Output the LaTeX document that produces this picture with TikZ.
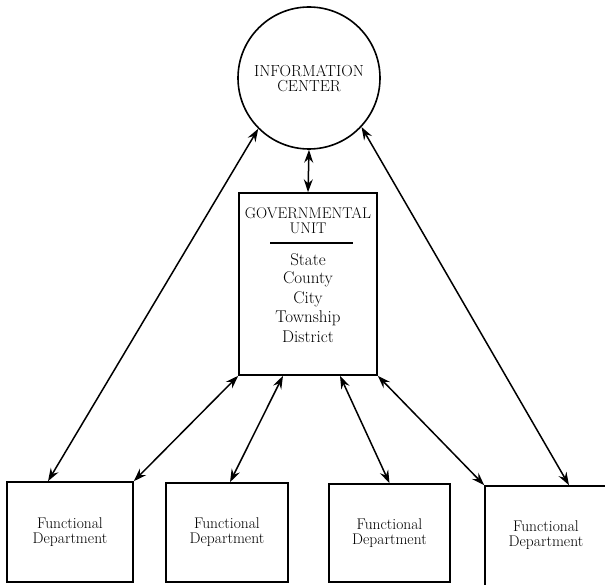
\documentclass[tikz,border=0pt]{standalone}
\usetikzlibrary{arrows.meta}
\begin{document}
\begin{tikzpicture}[x=1pt,y=-1pt,
  line width=1.6pt,
  box/.style={draw,rectangle,inner sep=0pt},
  dept/.style={box,minimum width=122pt,minimum height=99pt,align=center,
    font=\fontsize{15.5}{15}\selectfont},
  link/.style={{Stealth[length=13pt,width=9pt,inset=4.5pt]}-{Stealth[length=13pt,width=9pt,inset=4.5pt]},line width=1.5pt},
  head/.style={inner sep=0pt,font=\fontsize{15.5}{15}\selectfont},
  lbl/.style={inner sep=0pt,font=\fontsize{17}{19}\selectfont}]
\useasboundingbox (0,0) rectangle (605,585);

% information center
\node[draw,circle,minimum size=142pt,inner sep=0pt,align=center,
  font=\fontsize{16}{15}\selectfont] (ic) at (309,78) {INFORMATION\\CENTER};

% governmental unit with its list
\node[box,minimum width=138pt,minimum height=182pt] (gu) at (308,284) {};
\node[head] (gu1) at (308,213) {GOVERNMENTAL};
\node[head] (gu2) at (308,228) {UNIT};
\coordinate (ruleL) at (270,243);
\coordinate (ruleR) at (353,243);
\draw[line width=1.3pt] (ruleL) -- (ruleR);
\node[lbl] (s1) at (308,260) {State};
\node[lbl] (s2) at (308,279) {County};
\node[lbl] (s3) at (308,299) {City};
\node[lbl] (s4) at (308,318) {Township};
\node[lbl] (s5) at (308,337) {District};

% functional departments (the last one runs past the page edge)
\node[dept,minimum width=126pt,minimum height=100pt] (f1) at (70,532) {Functional\\Department};
\node[dept] (f2) at (227,532.5) {Functional\\Department};
\node[dept,minimum width=121pt,minimum height=98pt] (f3) at (389.5,533) {Functional\\Department};
\node[dept,minimum height=104pt] (f4) at (546,538) {};
\node[inner sep=0pt,align=center,font=\fontsize{15.5}{15}\selectfont] (f4t) at (546,535) {Functional\\Department};

% connectors
\draw[link] (ic.south) -- (gu.north);
\draw[link] (ic.225) -- ([xshift=-22pt]f1.north);
\draw[link] (ic.317) -- ([xshift=23pt]f4.north);
\draw[link] (gu.south west) -- (f1.north east);
\draw[link] ([xshift=-25pt]gu.south) -- ([xshift=3pt]f2.north);
\draw[link] ([xshift=32pt]gu.south) -- (f3.north);
\draw[link] (gu.south east) -- (f4.north west);
\end{tikzpicture}
\end{document}
